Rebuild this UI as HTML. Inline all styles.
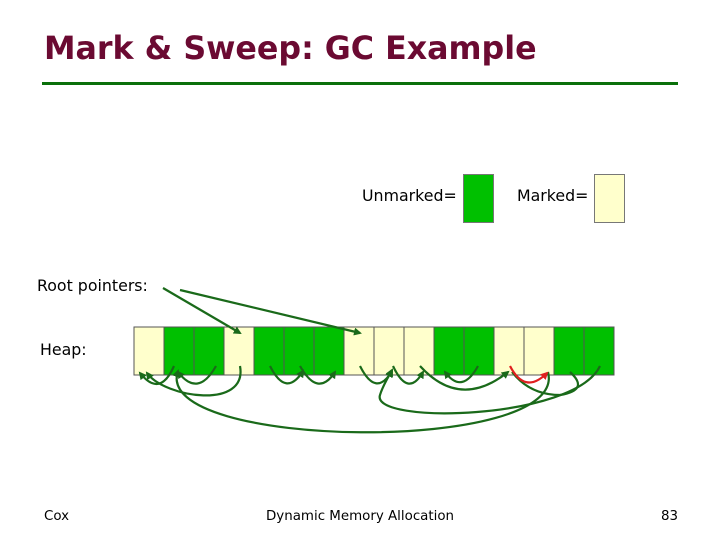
<!DOCTYPE html>
<html><head><style>
body{margin:0;width:720px;height:540px;background:#fff;position:relative;font-family:"DejaVu Sans","Liberation Sans",sans-serif;overflow:hidden}
.t{position:absolute;white-space:nowrap}
</style></head><body>
<div class="t" style="left:44px;top:31px;font-size:31.7px;font-weight:bold;color:#6b0a32">Mark &amp; Sweep: GC Example</div>
<div style="position:absolute;left:42px;top:82px;width:636px;height:3px;background:#0a700a"></div>
<div class="t" style="left:362px;top:186px;font-size:15.8px">Unmarked=</div>
<div style="position:absolute;left:463px;top:174px;width:29px;height:47px;background:#00c000;border:1px solid #777"></div>
<div class="t" style="left:517px;top:186px;font-size:15.8px">Marked=</div>
<div style="position:absolute;left:594px;top:174px;width:29px;height:47px;background:#ffffcc;border:1px solid #777"></div>
<div class="t" style="left:37px;top:276px;font-size:15.8px">Root pointers:</div>
<div class="t" style="left:40px;top:340px;font-size:15.8px">Heap:</div>
<div class="t" style="left:44px;top:509px;font-size:13.4px">Cox</div>
<div class="t" style="left:266px;top:509px;font-size:13.4px">Dynamic Memory Allocation</div>
<div class="t" style="left:661px;top:509px;font-size:13.4px">83</div>
<svg width="720" height="540" style="position:absolute;left:0;top:0">
<defs>
<marker id="a" markerWidth="8" markerHeight="8" refX="6" refY="4" orient="auto" markerUnits="userSpaceOnUse"><path d="M0,0L8,4L0,8z" fill="#1a6a1a"/></marker>
<marker id="r" markerWidth="8" markerHeight="8" refX="6" refY="4" orient="auto" markerUnits="userSpaceOnUse"><path d="M0,0L8,4L0,8z" fill="#e02020"/></marker>
</defs>
<g stroke="#555" stroke-width="1">
<rect x="134" y="327" width="30" height="48" fill="#ffffcc"/>
<rect x="164" y="327" width="30" height="48" fill="#00c000"/>
<rect x="194" y="327" width="30" height="48" fill="#00c000"/>
<rect x="224" y="327" width="30" height="48" fill="#ffffcc"/>
<rect x="254" y="327" width="30" height="48" fill="#00c000"/>
<rect x="284" y="327" width="30" height="48" fill="#00c000"/>
<rect x="314" y="327" width="30" height="48" fill="#00c000"/>
<rect x="344" y="327" width="30" height="48" fill="#ffffcc"/>
<rect x="374" y="327" width="30" height="48" fill="#ffffcc"/>
<rect x="404" y="327" width="30" height="48" fill="#ffffcc"/>
<rect x="434" y="327" width="30" height="48" fill="#00c000"/>
<rect x="464" y="327" width="30" height="48" fill="#00c000"/>
<rect x="494" y="327" width="30" height="48" fill="#ffffcc"/>
<rect x="524" y="327" width="30" height="48" fill="#ffffcc"/>
<rect x="554" y="327" width="30" height="48" fill="#00c000"/>
<rect x="584" y="327" width="30" height="48" fill="#00c000"/>
</g>
<g fill="none" stroke="#1a6a1a" stroke-width="2.2" marker-end="url(#a)">
<path d="M163,288 L240,333"/>
<path d="M180,290 L360,333"/>
<path d="M174,366 Q160,398 140,373"/>
<path d="M216,366 Q198,398 178,372"/>
<path d="M240,366 C248,410 165,398 147,373"/>
<path d="M548,372 C570,455 150,450 178,371"/>
<path d="M270,366 Q286,398 303,371"/>
<path d="M300,366 Q318,398 335,372"/>
<path d="M360,366 Q376,398 392,371"/>
<path d="M393,366 Q408,398 423,372"/>
<path d="M420,366 Q460,410 508,372"/>
<path d="M478,366 Q462,395 445,372"/>
<path d="M600,366 C575,420 370,425 380,395 C383,385 388,378 392,370"/>
<path d="M570,372 Q590,390 560,395 Q530,395 512,372" marker-end="none"/>
</g>
<path d="M510,366 Q525,395 547,373" fill="none" stroke="#e02020" stroke-width="2.2" marker-end="url(#r)"/>
</svg>
</body></html>
